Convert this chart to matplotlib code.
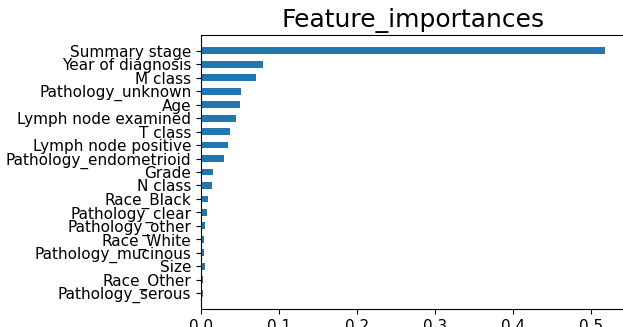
import numpy as np
import matplotlib
matplotlib.use("Agg")
from matplotlib import pyplot as plt

# feature importances from the fitted model, largest first
features = ["Summary stage", "Year of diagnosis", "M class", "Pathology_unknown",
            "Age", "Lymph node examined", "T class", "Lymph node positive",
            "Pathology_endometrioid", "Grade", "N class", "Race_Black",
            "Pathology_clear", "Pathology_other", "Race_White",
            "Pathology_mucinous", "Size", "Race_Other", "Pathology_serous"]
importances = [0.518, 0.079, 0.070, 0.051, 0.050, 0.045, 0.037, 0.034,
               0.029, 0.016, 0.014, 0.0095, 0.0073, 0.0056, 0.0043,
               0.0040, 0.0045, 0.0026, 0.0020]

fig = plt.figure(figsize=(6.23, 3.27), dpi=100)
ax = fig.add_axes([201 / 623, 1 - 309 / 327, 430 / 623, 274 / 327])

# smallest at the bottom
pos = np.arange(len(features))
ax.barh(pos, importances[::-1], height=0.5, color="#1f77b4")
ax.set_yticks(pos)
ax.set_yticklabels(features[::-1])
ax.tick_params(labelsize=11)
ax.set_xlim(0, 0.551)
ax.set_xticks(np.arange(0, 0.55, 0.1))
ax.set_title("Feature_importances", fontsize=18, x=424 / 430 / 2)

fig.savefig("out.png", dpi=100)
